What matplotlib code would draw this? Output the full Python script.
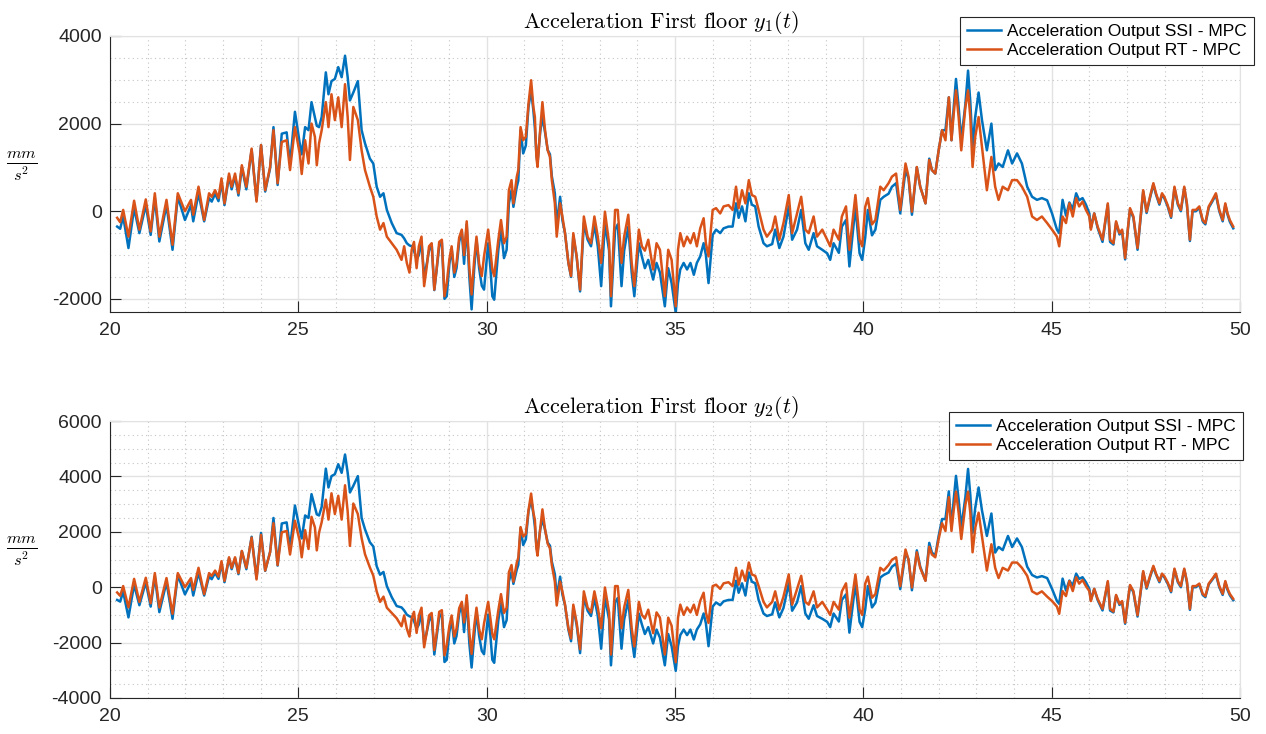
import matplotlib
matplotlib.use("Agg")
import matplotlib.pyplot as plt
from matplotlib.ticker import MultipleLocator

plt.rcParams['font.family'] = ['Liberation Sans', 'DejaVu Sans']
plt.rcParams['mathtext.fontset'] = 'cm'
plt.rcParams['axes.unicode_minus'] = False

# time samples [s]
t = [20.19, 20.27, 20.35, 20.49, 20.64, 20.78, 20.95, 21.08, 21.19, 21.31,
     21.50, 21.66, 21.80, 21.99, 22.15, 22.21, 22.35, 22.50, 22.63, 22.70,
     22.79, 22.88, 22.96, 23.04, 23.16, 23.23, 23.32, 23.41, 23.50, 23.62,
     23.76, 23.89, 24.01, 24.12, 24.25, 24.34, 24.45, 24.56, 24.69, 24.78,
     24.91, 25.04, 25.09, 25.18, 25.27, 25.35, 25.44, 25.49, 25.55, 25.62,
     25.73, 25.80, 25.88, 25.97, 26.06, 26.15, 26.24, 26.31, 26.37, 26.46,
     26.58, 26.68, 26.77, 26.90, 26.99, 27.08, 27.17, 27.26, 27.35, 27.48,
     27.61, 27.74, 27.81, 27.88, 27.95, 28.01, 28.07, 28.14, 28.20, 28.27,
     28.34, 28.41, 28.47, 28.54, 28.61, 28.67, 28.74, 28.81, 28.88, 28.94,
     29.01, 29.07, 29.14, 29.20, 29.27, 29.34, 29.40, 29.47, 29.54, 29.60,
     29.67, 29.73, 29.80, 29.87, 29.93, 30.04, 30.10, 30.15, 30.20, 30.31,
     30.38, 30.46, 30.53, 30.59, 30.66, 30.71, 30.80, 30.84, 30.90, 30.97,
     31.04, 31.11, 31.18, 31.24, 31.28, 31.32, 31.35, 31.42, 31.48, 31.55,
     31.62, 31.68, 31.73, 31.81, 31.86, 31.95, 32.01, 32.08, 32.17, 32.24,
     32.30, 32.39, 32.48, 32.58, 32.68, 32.77, 32.86, 32.95, 33.04, 33.14,
     33.25, 33.30, 33.41, 33.48, 33.58, 33.65, 33.76, 33.85, 33.92, 34.04,
     34.12, 34.20, 34.29, 34.42, 34.51, 34.60, 34.73, 34.82, 34.91, 35.02,
     35.08, 35.14, 35.23, 35.32, 35.41, 35.50, 35.58, 35.67, 35.76, 35.82,
     35.89, 36.00, 36.09, 36.20, 36.29, 36.42, 36.53, 36.62, 36.69, 36.78,
     36.87, 36.96, 37.04, 37.13, 37.22, 37.35, 37.44, 37.58, 37.66, 37.77,
     37.88, 38.02, 38.11, 38.24, 38.35, 38.46, 38.55, 38.68, 38.77, 38.91,
     39.04, 39.12, 39.21, 39.35, 39.43, 39.54, 39.63, 39.79, 39.90, 39.97,
     40.05, 40.12, 40.23, 40.32, 40.45, 40.54, 40.67, 40.76, 40.87, 40.98,
     41.12, 41.20, 41.29, 41.42, 41.51, 41.65, 41.75, 41.82, 41.91, 42.00,
     42.09, 42.18, 42.27, 42.34, 42.40, 42.46, 42.53, 42.60, 42.71, 42.78,
     42.84, 42.90, 42.97, 43.06, 43.15, 43.28, 43.40, 43.50, 43.59, 43.70,
     43.84, 43.95, 44.08, 44.21, 44.35, 44.48, 44.61, 44.74, 44.88, 45.01,
     45.14, 45.20, 45.29, 45.38, 45.47, 45.56, 45.65, 45.73, 45.82, 45.91,
     46.00, 46.04, 46.13, 46.22, 46.35, 46.49, 46.55, 46.64, 46.71, 46.80,
     46.87, 46.95, 47.02, 47.08, 47.17, 47.28, 47.37, 47.43, 47.52, 47.61,
     47.70, 47.77, 47.86, 47.93, 47.99, 48.08, 48.17, 48.26, 48.35, 48.43,
     48.52, 48.59, 48.67, 48.74, 48.83, 48.92, 49.01, 49.08, 49.17, 49.27,
     49.36, 49.45, 49.54, 49.61, 49.67, 49.73, 49.82]

# first floor, y1 [mm/s^2]
ssi_y1 = [-350, -400, -120, -840, 70, -500, 140, -540, 300, -690,
          140, -880, 330, -200, 140, -230, 410, -230, 300, 220,
          400, 230, 670, 140, 800, 500, 800, 360, 1000, 500,
          1400, 250, 1510, 450, 980, 1920, 600, 1770, 1800, 1090,
          2270, 1530, 1300, 1920, 1850, 2490, 2150, 1950, 1920, 2150,
          3170, 2670, 2970, 3020, 3290, 3060, 3550, 3060, 2530, 2710,
          2970, 1850, 1550, 1200, 1090, 560, 330, 410, 30, -270,
          -500, -540, -620, -730, -780, -800, -900, -1100, -1000, -700,
          -1500, -1200, -900, -750, -1800, -1350, -800, -700, -2000, -1940,
          -1200, -850, -1500, -1300, -700, -450, -1200, -300, -1500, -2240,
          -1300, -650, -1300, -1700, -1790, -730, -1300, -1940, -2020, -880,
          -420, -1070, -880, 180, 480, 100, 560, 700, 1850, 1320,
          1500, 2380, 2760, 2300, 1900, 1300, 1100, 1800, 2150, 1800,
          1400, 1300, 800, 410, -300, 330, -200, -500, -1180, -1500,
          -550, -1050, -1830, -270, -650, -800, -300, -800, -1710, -270,
          -900, -2170, -420, -300, -1710, -900, -350, -1400, -1940, -730,
          -1030, -1300, -1110, -1560, -1180, -1400, -2170, -1300, -1640, -2320,
          -1640, -1330, -1180, -1330, -1180, -1450, -1180, -1030, -730, -1000,
          -1640, -540, -420, -500, -390, -350, -350, 180, -150, 110,
          -230, 410, 150, 110, -350, -730, -800, -750, -420, -840,
          -580, 110, -650, -420, 30, -730, -880, -500, -800, -880,
          -960, -1110, -730, -950, -350, -200, -1260, 110, -960, -1110,
          -600, 30, -550, -420, 260, 330, 400, 560, 640, -50,
          940, 750, -80, 1000, 560, 180, 1200, 940, 860, 1390,
          1850, 1850, 2600, 1620, 2380, 3020, 2380, 1620, 2450, 3210,
          2500, 1470, 2150, 2710, 2080, 1390, 2000, 940, 1090, 1010,
          1390, 1090, 1320, 1090, 560, 330, 260, 300, 250, -50,
          -420, -500, 260, -100, 200, 50, 410, 250, 300, 150,
          -50, -380, -50, -380, -700, 150, -700, -760, -260, -530,
          -450, -1100, -450, 40, -150, -880, -80, 450, -40, 300,
          610, 380, 150, 380, 300, 110, -150, 530, 150, 0,
          530, 150, -680, 0, 0, 80, -230, -300, 80, 230,
          380, 0, -230, 150, -80, -240, -390]

rt_y1 = [-150, -250, 30, -580, 240, -420, 270, -460, 410, -580,
         260, -765, 410, 0, 260, -80, 560, -200, 410, 330,
         480, 300, 750, 180, 860, 560, 860, 410, 1050, 560,
         1430, 220, 1510, 480, 1010, 1850, 640, 1580, 1620, 940,
         1920, 1300, 850, 1620, 1090, 2000, 1700, 1050, 1550, 1850,
         2490, 1920, 2670, 2080, 2600, 1920, 2900, 2150, 1170, 2380,
         2080, 1390, 940, 560, 330, -120, -420, -270, -580, -730,
         -880, -1110, -800, -1180, -1400, -880, -700, -1300, -800, -580,
         -1710, -1260, -800, -730, -1790, -1330, -700, -650, -1940, -1640,
         -1100, -800, -1400, -1180, -600, -420, -1000, -230, -1300, -1900,
         -1100, -580, -1200, -1480, -1030, -420, -900, -1330, -1480, -650,
         -200, -730, -580, 480, 710, 180, 790, 940, 1920, 1620,
         1700, 2450, 2990, 2380, 2150, 1240, 1010, 1850, 2490, 1850,
         1390, 1240, 710, 180, -580, 180, -120, -500, -1180, -1480,
         -500, -1030, -1790, -120, -580, -730, -120, -580, -1180, -10,
         -730, -1940, 30, 30, -1180, -580, -80, -1180, -1710, -420,
         -800, -900, -650, -1330, -730, -880, -1940, -880, -1110, -2170,
         -880, -500, -800, -580, -730, -500, -800, -390, -160, -730,
         -1030, 30, 70, -50, 110, 140, 30, 560, 70, 480,
         180, 710, 370, 330, 30, -420, -580, -420, -120, -650,
         -270, 370, -500, -50, 330, -420, -500, -120, -580, -420,
         -650, -800, -420, -650, -120, 110, -880, 370, -650, -800,
         100, 300, -300, -200, 560, 480, 640, 790, 860, 30,
         1090, 790, -10, 1010, 560, 180, 1170, 940, 860, 1390,
         1850, 1620, 2600, 1620, 2230, 2760, 2150, 1390, 2380, 2760,
         2150, 1010, 1700, 2150, 1470, 480, 1240, 560, 260, 560,
         480, 710, 710, 560, 330, -120, -200, -120, -270, -420,
         -580, -800, -120, -270, 180, -120, 300, 110, 220, 30,
         -120, -420, -50, -350, -650, 180, -650, -730, -230, -500,
         -420, -1070, -420, 70, -120, -840, -50, 480, -10, 330,
         640, 410, 180, 410, 330, 140, -120, 560, 180, 30,
         560, 180, -650, 30, 30, 110, -200, -270, 110, 260,
         410, 30, -200, 180, -50, -200, -350]

# second floor, y2 [mm/s^2]
ssi_y2 = [-460, -520, -160, -1090, 90, -650, 180, -700, 390, -900,
          180, -1140, 430, -260, 180, -300, 530, -300, 390, 290,
          520, 300, 870, 180, 1040, 650, 1040, 470, 1300, 650,
          1820, 330, 1960, 590, 1270, 2500, 780, 2300, 2340, 1420,
          2950, 2070, 1760, 2590, 2500, 3360, 2900, 2630, 2590, 2900,
          4280, 3600, 4010, 4080, 4440, 4130, 4790, 4130, 3420, 3660,
          4010, 2500, 2090, 1620, 1470, 760, 450, 550, 40, -360,
          -680, -730, -840, -990, -1050, -1080, -1220, -1490, -1350, -950,
          -2030, -1620, -1220, -1010, -2430, -1820, -1080, -950, -2700, -2620,
          -1620, -1150, -2030, -1760, -950, -610, -1620, -410, -2030, -2900,
          -1760, -880, -1760, -2300, -2420, -990, -1760, -2620, -2730, -1190,
          -570, -1440, -1190, 210, 550, 120, 640, 810, 2130, 1520,
          1730, 2740, 3170, 2650, 2190, 1500, 1270, 2070, 2470, 2070,
          1610, 1500, 920, 470, -350, 380, -260, -650, -1530, -1950,
          -720, -1370, -2380, -350, -850, -1040, -390, -1040, -2220, -350,
          -1170, -2820, -550, -390, -2220, -1170, -460, -1820, -2520, -950,
          -1340, -1690, -1440, -2030, -1530, -1820, -2820, -1690, -2130, -3020,
          -2130, -1730, -1530, -1730, -1530, -1890, -1530, -1340, -950, -1300,
          -2130, -700, -550, -650, -510, -460, -460, 230, -200, 140,
          -300, 530, 200, 140, -460, -950, -1040, -980, -550, -1090,
          -750, 140, -850, -550, 40, -950, -1140, -650, -1040, -1140,
          -1250, -1440, -950, -1240, -460, -260, -1640, 140, -1250, -1440,
          -800, 40, -730, -560, 350, 440, 530, 740, 850, -70,
          1250, 1000, -110, 1330, 740, 240, 1600, 1250, 1140, 1850,
          2460, 2460, 3460, 2150, 3170, 4020, 3170, 2150, 3260, 4270,
          3330, 1960, 2860, 3600, 2770, 1850, 2660, 1250, 1450, 1340,
          1850, 1450, 1760, 1450, 740, 440, 350, 400, 330, -60,
          -500, -600, 310, -120, 240, 60, 490, 300, 360, 180,
          -60, -460, -60, -460, -840, 180, -840, -910, -310, -640,
          -540, -1320, -540, 50, -180, -1060, -100, 540, -50, 360,
          730, 460, 180, 460, 360, 130, -180, 640, 180, 0,
          640, 180, -820, 0, 0, 100, -280, -360, 100, 280,
          460, 0, -280, 180, -100, -290, -470]

rt_y2 = [-190, -310, 40, -730, 300, -530, 340, -580, 510, -730,
         330, -960, 510, 0, 330, -100, 700, -250, 510, 410,
         600, 380, 940, 230, 1080, 700, 1080, 510, 1310, 700,
         1790, 280, 1890, 600, 1260, 2310, 800, 1980, 2030, 1180,
         2400, 1650, 1080, 2060, 1380, 2540, 2160, 1330, 1970, 2350,
         3160, 2440, 3390, 2640, 3300, 2440, 3680, 2730, 1490, 3020,
         2640, 1770, 1190, 710, 420, -150, -530, -340, -740, -930,
         -1120, -1410, -1020, -1500, -1780, -1120, -890, -1650, -1020, -740,
         -2170, -1600, -1020, -930, -2270, -1690, -890, -830, -2460, -2080,
         -1400, -1020, -1780, -1500, -760, -530, -1270, -290, -1650, -2410,
         -1400, -740, -1520, -1880, -1310, -530, -1140, -1690, -1880, -830,
         -250, -930, -740, 540, 800, 200, 890, 1060, 2170, 1830,
         1920, 2770, 3380, 2690, 2430, 1400, 1140, 2090, 2810, 2090,
         1570, 1400, 800, 200, -660, 200, -150, -630, -1480, -1850,
         -630, -1290, -2240, -150, -730, -910, -150, -730, -1480, -10,
         -910, -2430, 40, 40, -1480, -730, -100, -1480, -2140, -530,
         -1000, -1130, -810, -1660, -910, -1100, -2430, -1100, -1390, -2710,
         -1100, -630, -1000, -730, -910, -630, -1000, -490, -200, -910,
         -1290, 40, 90, -60, 140, 180, 40, 700, 90, 600,
         230, 890, 460, 410, 40, -530, -730, -530, -150, -810,
         -340, 460, -630, -60, 410, -530, -630, -150, -730, -530,
         -810, -1000, -530, -810, -150, 140, -1100, 460, -810, -1000,
         130, 380, -380, -250, 700, 600, 800, 990, 1080, 40,
         1360, 990, -10, 1260, 700, 230, 1460, 1180, 1080, 1740,
         2310, 2030, 3250, 2030, 2790, 3450, 2690, 1740, 2980, 3450,
         2690, 1260, 2130, 2690, 1840, 600, 1550, 700, 330, 700,
         600, 890, 890, 700, 410, -150, -250, -150, -340, -500,
         -700, -960, -140, -320, 220, -140, 360, 130, 260, 40,
         -140, -500, -60, -420, -780, 220, -780, -880, -280, -600,
         -500, -1280, -500, 80, -140, -1010, -60, 580, -10, 400,
         770, 490, 220, 490, 400, 170, -140, 670, 220, 40,
         670, 220, -780, 40, 40, 130, -240, -320, 130, 310,
         490, 40, -240, 220, -60, -240, -420]

blue = '#0072BD'
orange = '#D95319'
axis_col = '#262626'

fig = plt.figure(figsize=(12.66, 7.34), dpi=100)
ax1 = fig.add_axes([110/1266, 1 - 312/734, 1130/1266, 276/734])
ax2 = fig.add_axes([110/1266, 1 - 698/734, 1130/1266, 277/734])


def style_axes(ax, ylim, ystep, title, legend_anchor):
    ax.set_xlim(20, 50)
    ax.set_ylim(*ylim)
    ax.xaxis.set_major_locator(MultipleLocator(5))
    ax.xaxis.set_minor_locator(MultipleLocator(1))
    ax.yaxis.set_major_locator(MultipleLocator(ystep))
    ax.yaxis.set_minor_locator(MultipleLocator(500))
    ax.grid(which='major', color='#e2e2e2', lw=1.0)
    ax.grid(which='minor', color='#c4c4c4', lw=0.8, ls=(0, (1, 3)))
    ax.set_axisbelow(True)
    ax.tick_params(which='major', direction='in', length=8, width=0.8,
                   color=axis_col, labelsize=14, labelcolor=axis_col)
    ax.tick_params(which='minor', length=0)
    ax.tick_params(axis='x', pad=7)
    ax.tick_params(axis='y', pad=6)
    for s in ['left', 'bottom']:
        ax.spines[s].set_color(axis_col)
        ax.spines[s].set_linewidth(0.8)
    for s in ['top', 'right']:
        ax.spines[s].set_color('#e2e2e2')
    ax.set_title(title, fontsize=16, pad=5, x=0.487)
    ax.set_ylabel(r'$\frac{mm}{s^2}$', rotation=0, fontsize=17,
                  ha='center', va='center')
    ax.yaxis.set_label_coords(-0.078, 0.53)
    leg = ax.legend(loc='upper right', bbox_to_anchor=legend_anchor,
                    fontsize=12.5, fancybox=False, framealpha=1,
                    edgecolor=axis_col, handlelength=2.0,
                    labelspacing=0.22, borderpad=0.4, borderaxespad=0,
                    handletextpad=0.35)
    leg.get_frame().set_linewidth(0.8)


ax1.plot(t, ssi_y1, color=blue, lw=1.8, label='Acceleration Output SSI - MPC')
ax1.plot(t, rt_y1, color=orange, lw=1.8, label='Acceleration Output RT - MPC')
style_axes(ax1, (-2300, 4000), 2000,
           r'$\mathrm{Acceleration\ First\ floor}\ y_1(t)$', (1.0124, 1.069))

ax2.plot(t, ssi_y2, color=blue, lw=1.8, label='Acceleration Output SSI - MPC')
ax2.plot(t, rt_y2, color=orange, lw=1.8, label='Acceleration Output RT - MPC')
style_axes(ax2, (-4000, 6000), 2000,
           r'$\mathrm{Acceleration\ First\ floor}\ y_2(t)$', (1.0027, 1.0325))

fig.savefig('out.png', dpi=100)
